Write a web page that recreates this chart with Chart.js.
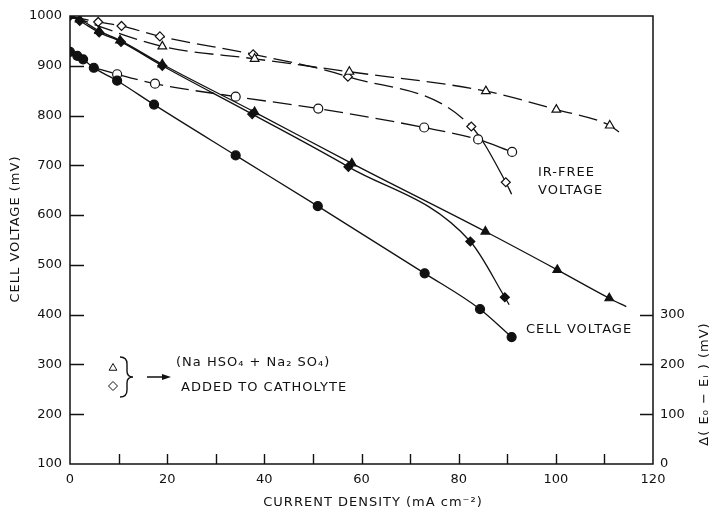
<!DOCTYPE html>
<html>
<head>
<meta charset="utf-8">
<script src="https://cdn.jsdelivr.net/npm/chart.js@4"></script>
<style>
  html, body { margin: 0; padding: 0; background: #fff; }
  #wrap { width: 714px; height: 512px; }
</style>
</head>
<body>
<div id="wrap"><canvas id="cellChart" width="714" height="512"></canvas></div>
<script>
// cell voltage (solid, filled markers)
var filledCircleX = [0, 1.5, 2.7, 4.9, 9.7, 17.3, 34.1, 51, 73, 84.4, 90.9];
var filledCircleY = [928, 920, 913, 896, 870, 822, 720, 618, 483, 411, 355];
var filledTriangleX = [0, 2, 6, 10.3, 19, 38, 58, 85.5, 100.3, 111, 114.5];
var filledTriangleY = [1000, 993, 970, 951, 903, 807, 704, 567, 490, 433, 416];
var filledDiamondX = [0, 2, 6, 10.5, 19, 37.5, 57.3, 82.4, 89.5, 90.4];
var filledDiamondY = [1000, 990, 967, 948, 900, 803, 697, 547, 435, 420];

// IR-free voltage (dashed, open markers)
var openCircleX = [5, 9.7, 17.5, 34.1, 51.1, 72.9, 84, 91];
var openCircleY = [896, 883, 864, 838, 814, 776, 752, 727];
var openTriangleX = [0, 19, 38, 57.5, 85.6, 100.1, 111.1, 113];
var openTriangleY = [1000, 939, 914, 888, 849, 812, 780, 767];
var openDiamondX = [0, 5.8, 10.6, 18.5, 37.7, 57.2, 82.6, 89.7, 90.9];
var openDiamondY = [1000, 988, 980, 959, 923, 878, 778, 666, 642];

// axis ticks
var xTicks = {min: 0, max: 120, step: 10, labelEvery: 20};
var yTicks = {min: 100, max: 1000, step: 100};
var y2Ticks = {min: 0, max: 900, step: 100, lastLabel: 300};

var INK = '#111';
var FONT = '"DejaVu Sans", sans-serif';

function pts(xs, ys) {
    return xs.map(function (x, i) { return {x: x, y: ys[i]}; });
}
function radii(n, r, hideFirst, hideLast) {
    var out = [];
    for (var i = 0; i < n; i++) out.push(r);
    if (hideFirst) out[0] = 0;
    if (hideLast) out[n - 1] = 0;
    return out;
}
function series(xs, ys, style, filled, r, hideFirst, hideLast, dashed, solidFrom) {
    var ds = {
        data: pts(xs, ys),
        borderColor: INK,
        borderWidth: 1.3,
        pointStyle: style,
        pointRadius: radii(xs.length, r, hideFirst, hideLast),
        pointBackgroundColor: filled ? INK : '#fff',
        pointBorderColor: INK,
        pointBorderWidth: 1.2,
        cubicInterpolationMode: 'monotone',
        fill: false
    };
    if (dashed) {
        ds.segment = {
            borderDash: function (c) {
                return (solidFrom != null && c.p0DataIndex >= solidFrom) ? [] : [19, 7];
            }
        };
    }
    return ds;
}

var framePlugin = {
    id: 'frame',
    beforeDatasetsDraw: function (chart) {
        var ctx = chart.ctx, a = chart.chartArea;
        var sx = chart.scales.x, sy = chart.scales.y, sy2 = chart.scales.y2;
        ctx.save();
        ctx.strokeStyle = INK;
        ctx.lineWidth = 1.5;
        ctx.strokeRect(a.left, a.top, a.right - a.left, a.bottom - a.top);
        ctx.lineWidth = 1.4;
        ctx.beginPath();
        sy.ticks.forEach(function (t) {
            if (t.value <= yTicks.min || t.value >= yTicks.max) return;
            var p = Math.round(sy.getPixelForValue(t.value)) + 0.5;
            ctx.moveTo(a.left, p); ctx.lineTo(a.left + 14, p);
        });
        sx.ticks.forEach(function (t) {
            if (t.value <= xTicks.min || t.value >= xTicks.max) return;
            var p = Math.round(sx.getPixelForValue(t.value)) + 0.5;
            ctx.moveTo(p, a.bottom); ctx.lineTo(p, a.bottom - 10);
        });
        sy2.ticks.forEach(function (t) {
            if (t.value <= y2Ticks.min || t.value > y2Ticks.lastLabel) return;
            var p = Math.round(sy2.getPixelForValue(t.value)) + 0.5;
            ctx.moveTo(a.right, p); ctx.lineTo(a.right - 13, p);
        });
        ctx.stroke();
        ctx.restore();
    },
    afterDraw: function (chart) {
        var ctx = chart.ctx;
        ctx.save();
        ctx.fillStyle = INK;
        ctx.strokeStyle = INK;
        ctx.font = '13px ' + FONT;
        ctx.letterSpacing = '1px';
        ctx.textBaseline = 'middle';
        ctx.textAlign = 'left';

        ctx.fillText('IR-FREE', 538, 173);
        ctx.fillText('VOLTAGE', 538, 191);
        ctx.fillText('CELL VOLTAGE', 526, 330);

        // legend note
        ctx.fillStyle = '#fff';
        Chart.helpers.drawPoint(ctx, {pointStyle: 'triangle', radius: 4.5, borderWidth: 1.2}, 113, 368);
        Chart.helpers.drawPoint(ctx, {pointStyle: 'rectRot', radius: 4.5, borderWidth: 1.2}, 113, 386);
        ctx.fillStyle = INK;
        ctx.lineWidth = 1.4;
        ctx.beginPath();
        ctx.moveTo(120, 357);
        ctx.quadraticCurveTo(127, 357, 127, 364);
        ctx.lineTo(127, 371);
        ctx.quadraticCurveTo(127, 377, 133, 377);
        ctx.quadraticCurveTo(127, 377, 127, 383);
        ctx.lineTo(127, 390);
        ctx.quadraticCurveTo(127, 397, 120, 397);
        ctx.moveTo(147, 377);
        ctx.lineTo(164, 377);
        ctx.stroke();
        ctx.beginPath();
        ctx.moveTo(171, 377); ctx.lineTo(162, 374); ctx.lineTo(162, 380); ctx.closePath();
        ctx.fill();
        ctx.fillText('(Na HSO\u2084 + Na\u2082 SO\u2084)', 176, 363);
        ctx.fillText('ADDED TO CATHOLYTE', 181, 388);

        // axis titles
        ctx.textAlign = 'center';
        ctx.fillText('CURRENT DENSITY (mA cm\u207B\u00B2)', 373, 503);
        ctx.save();
        ctx.translate(16, 229);
        ctx.rotate(-Math.PI / 2);
        ctx.fillText('CELL VOLTAGE (mV)', 0, 0);
        ctx.restore();
        ctx.save();
        ctx.translate(705, 384);
        ctx.rotate(-Math.PI / 2);
        ctx.fillText('\u0394( E\u2080 \u2212 E\u1D62 ) (mV)', 0, 0);
        ctx.restore();
        ctx.restore();
    }
};

var tickFont = {family: FONT, size: 13};

new Chart(document.getElementById('cellChart').getContext('2d'), {
    type: 'line',
    data: {
        datasets: [
            series(filledCircleX, filledCircleY, 'circle', true, 4.5, false, false, false),
            series(filledTriangleX, filledTriangleY, 'triangle', true, 5, false, true, false),
            series(filledDiamondX, filledDiamondY, 'rectRot', true, 4.5, false, true, false),
            series(openCircleX, openCircleY, 'circle', false, 4.5, true, false, true, 6),
            series(openTriangleX, openTriangleY, 'triangle', false, 5, true, true, true, null),
            series(openDiamondX, openDiamondY, 'rectRot', false, 4.5, true, true, true, 6)
        ]
    },
    options: {
        responsive: false,
        animation: false,
        layout: {padding: {top: 16, left: 0, right: 0, bottom: 0}},
        plugins: {legend: {display: false}, tooltip: {enabled: false}},
        scales: {
            x: {
                type: 'linear', min: xTicks.min, max: xTicks.max,
                grid: {display: false, drawTicks: false}, border: {display: false},
                ticks: {
                    stepSize: xTicks.step, autoSkip: false, maxRotation: 0, padding: 8,
                    color: INK, font: tickFont,
                    callback: function (v) { return v % xTicks.labelEvery === 0 ? String(v) : ''; }
                },
                afterFit: function (s) { s.height = 48; }
            },
            y: {
                position: 'left', min: yTicks.min, max: yTicks.max,
                grid: {display: false, drawTicks: false}, border: {display: false},
                ticks: {
                    stepSize: yTicks.step, padding: 8, color: INK, font: tickFont,
                    callback: function (v) { return String(v); }
                },
                afterFit: function (s) { s.width = 70; }
            },
            y2: {
                position: 'right', min: y2Ticks.min, max: y2Ticks.max,
                grid: {display: false, drawTicks: false}, border: {display: false},
                ticks: {
                    stepSize: y2Ticks.step, padding: 7, color: INK, font: tickFont,
                    callback: function (v) { return v <= y2Ticks.lastLabel ? String(v) : ''; }
                },
                afterFit: function (s) { s.width = 61; }
            }
        }
    },
    plugins: [framePlugin]
});
</script>
</body>
</html>
